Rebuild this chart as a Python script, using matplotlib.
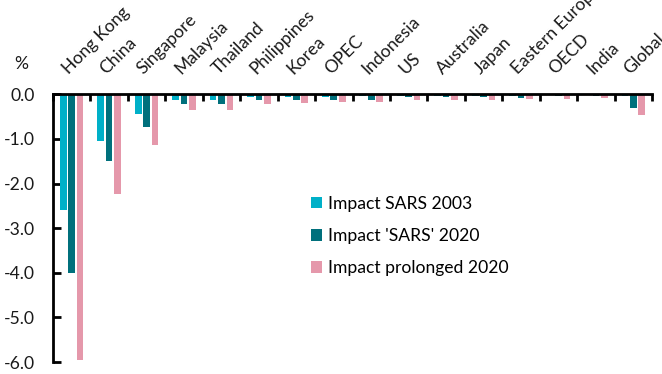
import matplotlib
matplotlib.use("Agg")
import matplotlib.pyplot as plt
import matplotlib.transforms as mtransforms
import numpy as np

categories = ["Hong Kong", "China", "Singapore", "Malaysia", "Thailand",
              "Philippines", "Korea", "OPEC", "Indonesia", "US", "Australia",
              "Japan", "Eastern Europe", "OECD", "India", "Global"]
sars_2003 = [-2.60, -1.04, -0.44, -0.14, -0.14, -0.07, -0.07, -0.06, -0.04,
             -0.04, -0.04, -0.04, -0.04, -0.02, -0.02, -0.05]
sars_2020 = [-4.00, -1.49, -0.74, -0.22, -0.22, -0.14, -0.14, -0.12, -0.12,
             -0.07, -0.07, -0.07, -0.08, -0.04, -0.05, -0.30]
prolonged_2020 = [-5.96, -2.24, -1.13, -0.35, -0.35, -0.22, -0.20, -0.17, -0.17,
                  -0.14, -0.14, -0.14, -0.11, -0.11, -0.08, -0.47]
series_labels = ["Impact SARS 2003", "Impact 'SARS' 2020", "Impact prolonged 2020"]
y_ticks = [0.0, -1.0, -2.0, -3.0, -4.0, -5.0, -6.0]

colors = ["#00B0C8", "#00707C", "#E598AB"]
text_color = "#1a1a1a"
fs = 12.6

plt.rcParams["font.family"] = ["Lato", "DejaVu Sans"]

fig = plt.figure(figsize=(6.62, 3.74), dpi=100)
ax = fig.add_axes([0.080, 0.032, 0.905, 0.716])

x = np.arange(len(categories))
offsets = [-0.225, 0.0, 0.225]
width = 0.18
for vals, off, col, lab in zip([sars_2003, sars_2020, prolonged_2020],
                               offsets, colors, series_labels):
    ax.bar(x + off, vals, width=width, color=col, label=lab, zorder=2)

ax.set_xlim(-0.5, len(categories) - 0.5)
ax.set_ylim(-6.0, 0.0)

for s in ["right", "bottom"]:
    ax.spines[s].set_visible(False)
ax.spines["left"].set_linewidth(2)
ax.spines["top"].set_linewidth(2)
ax.spines["top"].set_zorder(3)

ax.set_yticks(y_ticks)
ax.set_yticklabels([f"{v:.1f}" for v in y_ticks], fontsize=fs, color=text_color)
ax.tick_params(axis="y", direction="in", length=6, width=2, pad=13)

ax.xaxis.set_ticks_position("top")
ax.set_xticks(np.arange(len(categories) + 1) - 0.5)
ax.set_xticklabels([])
ax.tick_params(axis="x", direction="in", length=5, width=2)

# category names sit just above the zero line, slanted at 45 degrees
label_shift = mtransforms.ScaledTranslation(-3 / 100, 19 / 100, fig.dpi_scale_trans)
for i, name in enumerate(categories):
    ax.text(i, 0, name, transform=ax.transData + label_shift,
            rotation=45, rotation_mode="anchor",
            ha="left", va="baseline", fontsize=fs, color=text_color,
            clip_on=False)

fig.text(21 / 662, 1 - 64 / 374, "%", ha="center", va="center",
         fontsize=fs, color=text_color)

ax.legend(loc="upper left", bbox_to_anchor=(295 / 662, 1 - 180 / 374),
          bbox_transform=fig.transFigure, frameon=False,
          handlelength=0.63, handleheight=0.63, handletextpad=0.35,
          labelspacing=0.93, fontsize=fs)

fig.savefig("out.png", dpi=100)
